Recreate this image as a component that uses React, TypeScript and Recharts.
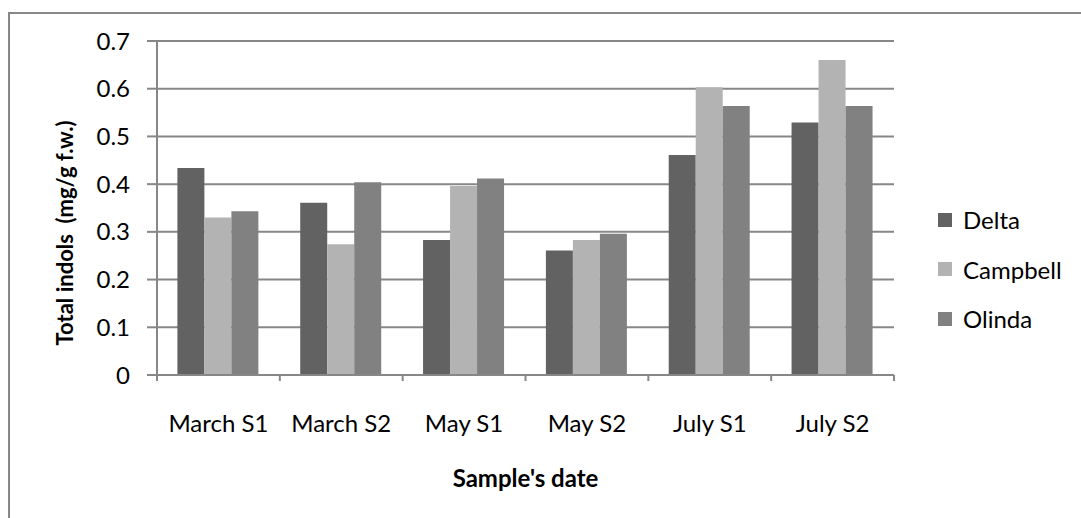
import React from "react";
import { BarChart, Bar, XAxis, YAxis, CartesianGrid, Legend } from "recharts";

const categories = ["March S1", "March S2", "May S1", "May S2", "July S1", "July S2"];
const delta = [0.434, 0.361, 0.283, 0.261, 0.461, 0.529];
const campbell = [0.33, 0.274, 0.396, 0.283, 0.603, 0.66];
const olinda = [0.343, 0.404, 0.412, 0.296, 0.564, 0.564];
const yTicks = [0, 0.1, 0.2, 0.3, 0.4, 0.5, 0.6, 0.7];

const seriesNames = ["Delta", "Campbell", "Olinda"];
const seriesColors = ["#626262", "#b3b3b3", "#818181"];

const data = categories.map((date, i) => ({
  date,
  Delta: delta[i],
  Campbell: campbell[i],
  Olinda: olinda[i],
}));

const FONT = "Lato, 'Open Sans', sans-serif";
const GRID = "#878787";

function CategoryTick(props: any) {
  const { x, y, payload, index, width, visibleTicksCount } = props;
  const half = width / visibleTicksCount / 2;
  return (
    <g>
      <line x1={x - half} x2={x - half} y1={y - 6} y2={y} stroke={GRID} strokeWidth={2} />
      {index === visibleTicksCount - 1 && (
        <line x1={x + half} x2={x + half} y1={y - 6} y2={y} stroke={GRID} strokeWidth={2} />
      )}
      <text x={x} y={y} dy={51} textAnchor="middle" fill="#000" fontSize={24} fontFamily={FONT}>
        {payload.value}
      </text>
    </g>
  );
}

function YTitle(props: any) {
  const { viewBox } = props;
  const cx = viewBox.x + 64;
  const cy = viewBox.y + viewBox.height / 2 + 25;
  return (
    <text
      x={cx}
      y={cy}
      transform={`rotate(-90 ${cx} ${cy})`}
      textAnchor="middle"
      dominantBaseline="central"
      fontSize={22}
      fontWeight="bold"
      fontFamily={FONT}
      fill="#000"
      style={{ whiteSpace: "pre" }}
    >
      {"Total indols  (mg/g f.w.)"}
    </text>
  );
}

function XTitle(props: any) {
  const { viewBox } = props;
  return (
    <text
      x={viewBox.x + viewBox.width / 2}
      y={viewBox.y + 102}
      textAnchor="middle"
      dominantBaseline="central"
      fontSize={24}
      fontWeight="bold"
      fontFamily={FONT}
      fill="#000"
    >
      Sample's date
    </text>
  );
}

function LegendBox() {
  return (
    <div style={{ fontFamily: FONT, fontSize: 24 }}>
      {seriesNames.map((name, i) => (
        <div key={name} style={{ display: "flex", alignItems: "center", height: 49.5 }}>
          <span style={{ width: 14, height: 14, background: seriesColors[i], marginRight: 11 }} />
          <span style={{ color: "#000" }}>{name}</span>
        </div>
      ))}
    </div>
  );
}

export default function App() {
  return (
    <div style={{ position: "absolute", left: 0, top: 0, width: 1081, height: 518, background: "#fff" }}>
      <div
        style={{
          position: "absolute",
          left: 8,
          top: 12,
          width: 1073,
          height: 506,
          borderTop: `2px solid ${GRID}`,
          borderLeft: `2px solid ${GRID}`,
          boxSizing: "border-box",
        }}
      />
      <div style={{ position: "absolute", left: 0, top: 0 }}>
        <BarChart
          width={1081}
          height={518}
          data={data}
          margin={{ top: 41, right: 187, left: 0, bottom: 0 }}
          barCategoryGap="16.6%"
          barGap={0}
        >
          <CartesianGrid vertical={false} stroke={GRID} strokeWidth={2} />
          <XAxis
            dataKey="date"
            height={143}
            axisLine={{ stroke: GRID, strokeWidth: 2 }}
            tickLine={false}
            tickSize={6}
            tickMargin={0}
            interval={0}
            tick={<CategoryTick />}
            label={<XTitle />}
          />
          <YAxis
            width={157}
            domain={[0, 0.7]}
            ticks={yTicks}
            interval={0}
            tickFormatter={(v: number) => (v === 0 ? "0" : v.toFixed(1))}
            axisLine={{ stroke: GRID, strokeWidth: 2 }}
            tickLine={{ stroke: GRID, strokeWidth: 2 }}
            tickSize={10}
            tickMargin={17}
            tick={{ fill: "#000", fontSize: 24, fontFamily: FONT }}
            label={<YTitle />}
          />
          <Legend
            layout="horizontal"
            verticalAlign="middle"
            align="center"
            wrapperStyle={{ left: 938, top: 195, width: 140 }}
            content={() => <LegendBox />}
          />
          {seriesNames.map((name, i) => (
            <Bar key={name} dataKey={name} fill={seriesColors[i]} isAnimationActive={false} />
          ))}
        </BarChart>
      </div>
    </div>
  );
}
